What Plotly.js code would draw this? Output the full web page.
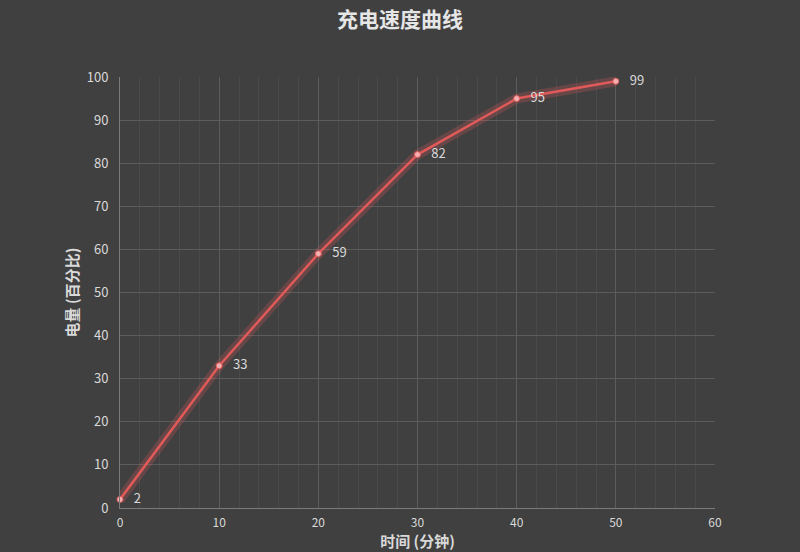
<!DOCTYPE html>
<html>
<head>
<meta charset="utf-8">
<script src="https://cdn.plot.ly/plotly-3.0.1.min.js"></script>
<style>
	html, body { margin: 0; padding: 0; background: #404040; }
	#chart { width: 800px; height: 552px; }
</style>
</head>
<body>
<div id="chart"></div>
<script>
const minutes = [0, 10, 20, 30, 40, 50];
const charge = [2, 33, 59, 82, 95, 99];
const chartTitle = "充电速度曲线";
const xTitle = "时间 (分钟)";
const yTitle = "电量 (百分比)";

const font = "'Noto Sans CJK SC', 'Noto Sans', sans-serif";

// soft glow under the line
const glow = {
	type: 'scatter',
	mode: 'lines',
	x: minutes,
	y: charge,
	line: { color: 'rgba(235, 90, 90, 0.22)', width: 10 },
	hoverinfo: 'skip',
	showlegend: false
};

const line = {
	type: 'scatter',
	mode: 'lines+markers+text',
	x: minutes,
	y: charge,
	// a little space pushes the labels away from the points
	text: charge.map(v => '\u2002\u2009' + v),
	textposition: 'middle right',
	textfont: { family: font, size: 13, color: '#d9d9d9' },
	line: { color: '#e05a5a', width: 2.5 },
	marker: { color: '#f4b0b0', size: 6, line: { color: '#e05a5a', width: 1 } },
	cliponaxis: false,
	showlegend: false
};

const layout = {
	width: 800,
	height: 552,
	paper_bgcolor: '#404040',
	plot_bgcolor: '#404040',
	margin: { l: 120, r: 85, t: 77, b: 44 },
	font: { family: font, color: '#d9d9d9', size: 13 },
	title: {
		text: '<b>' + chartTitle + '</b>',
		font: { family: font, size: 21, color: '#e6e6e6' },
		x: 0.5,
		xanchor: 'center',
		y: 0.965,
		yanchor: 'middle'
	},
	xaxis: {
		range: [0, 60],
		dtick: 10,
		tick0: 0,
		showgrid: true,
		gridcolor: '#5c5c5c',
		gridwidth: 1,
		minor: { dtick: 2, showgrid: true, gridcolor: '#4a4a4a', gridwidth: 1 },
		zeroline: false,
		showline: true,
		linecolor: '#7a7a7a',
		ticks: '',
		ticklabelstandoff: 4,
		tickfont: { family: font, size: 12, color: '#d9d9d9' },
		title: {
			text: '<b>' + xTitle + '</b>',
			font: { family: font, size: 15, color: '#d9d9d9' },
			standoff: 2
		},
		automargin: false,
		fixedrange: true
	},
	yaxis: {
		range: [0, 100],
		dtick: 10,
		tick0: 0,
		showgrid: true,
		gridcolor: '#5c5c5c',
		gridwidth: 1,
		zeroline: false,
		showline: true,
		linecolor: '#7a7a7a',
		ticks: '',
		ticklabelstandoff: 8,
		tickfont: { family: font, size: 13, color: '#d9d9d9' },
		title: {
			text: '<b>' + yTitle + '</b>',
			font: { family: font, size: 15, color: '#d9d9d9' },
			standoff: 4
		},
		automargin: false,
		fixedrange: true
	}
};

Plotly.newPlot('chart', [glow, line], layout, { displayModeBar: false, staticPlot: true });
</script>
</body>
</html>
